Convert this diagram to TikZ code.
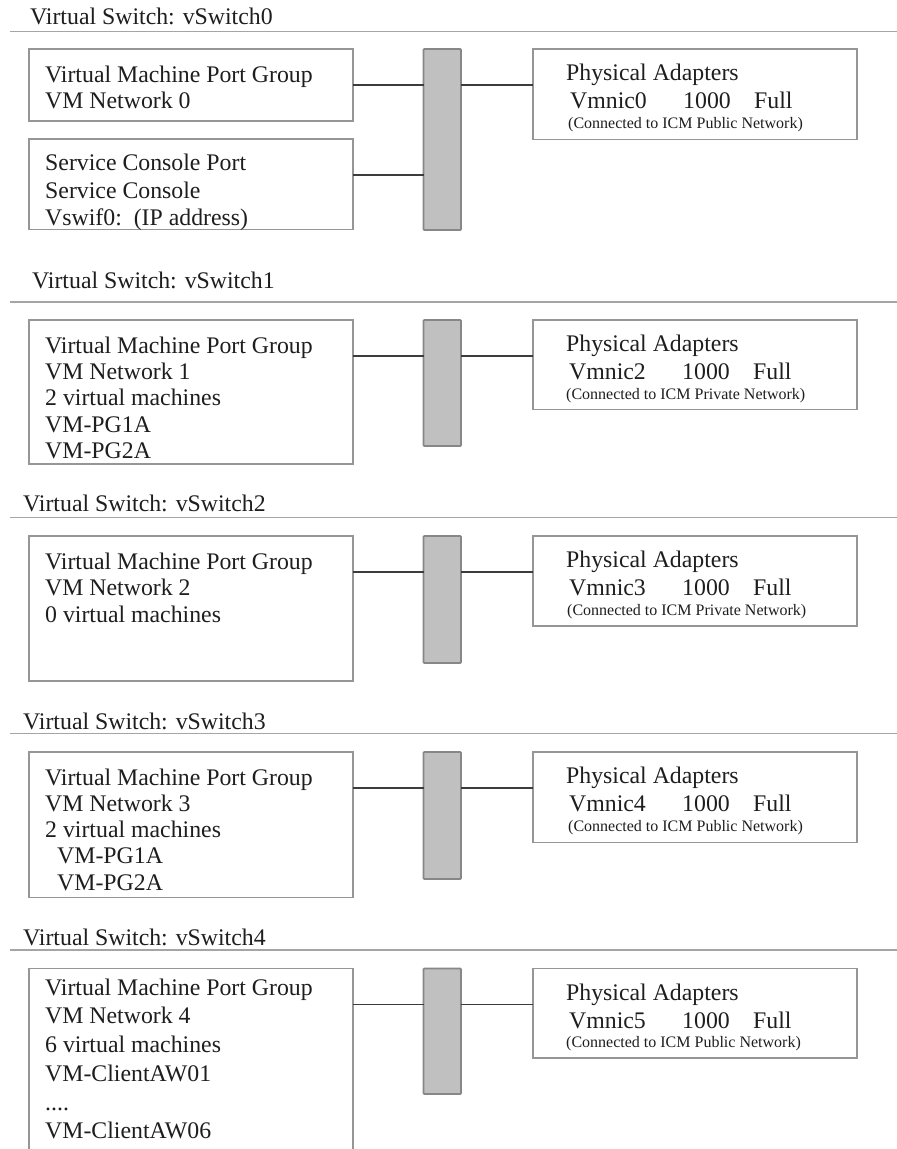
\documentclass[tikz,border=0pt]{standalone}
\usepackage{fontspec}
\setmainfont{Liberation Serif}
\definecolor{rulec}{RGB}{165,165,165}
\definecolor{boxc}{RGB}{150,150,150}
\definecolor{connc}{RGB}{60,60,60}
\definecolor{barf}{RGB}{192,192,192}
\definecolor{bard}{RGB}{135,135,135}
\definecolor{txtc}{RGB}{30,30,30}
\tikzset{
  box/.style={draw=boxc, line width=1.4pt, inner sep=0pt, outer sep=0pt, anchor=north west},
  swbar/.style={draw=bard, fill=barf, line width=1.8pt, inner sep=0pt, outer sep=0pt, anchor=north west, minimum width=37.5pt, rounded corners=0.8pt},
  conn/.style={draw=connc, line width=1.4pt},
  rulel/.style={draw=rulec, line width=1.5pt},
  title/.style={anchor=base west, inner sep=0pt, text=txtc, font=\fontsize{23.8}{26}\selectfont},
  txt/.style={anchor=north west, inner sep=0pt, align=left, text=txtc},
  pa/.style={anchor=base west, inner sep=0pt, text=txtc, font=\fontsize{23.8}{26}\selectfont},
  note/.style={anchor=base west, inner sep=0pt, text=txtc, font=\fontsize{16}{18}\selectfont},
}
\newcommand{\nicline}[1]{\makebox[113pt][l]{#1}\makebox[71pt][l]{1000}Full}
\begin{document}
\begin{tikzpicture}[x=1pt,y=-1pt]
\useasboundingbox (0,0) rectangle (897,1149);
\fill[white] (0,0) rectangle (897,1149);

% ---------------- vSwitch0
\node[title] (t0) at (30,24.5) {Virtual Switch: vSwitch0};
\coordinate (r0a) at (10,31.7); \coordinate (r0b) at (897,31.7);
\draw[rulel] (r0a) -- (r0b);
\node[box, minimum width=324pt, minimum height=72pt] (vm0) at (29,49) {};
\node[txt, font=\fontsize{23.8}{26.6}\selectfont] (vm0t) at (45,65.5) {Virtual Machine Port Group\\VM Network 0};
\node[box, minimum width=324pt, minimum height=90.5pt] (sc0) at (29,139) {};
\node[txt, font=\fontsize{23.8}{27.5}\selectfont] (sc0t) at (45,153.8) {Service Console Port\\Service Console\\Vswif0:\ \ (IP address)};
\node[swbar, minimum height=181pt] (bar0) at (423.5,49) {};
\node[box, minimum width=324pt, minimum height=90.5pt] (ad0) at (533,49) {};
\node[pa] (pa0) at (566,80) {Physical Adapters};
\node[pa] (nic0) at (570,108) {\nicline{Vmnic0}};
\node[note] (nt0) at (568,128) {(Connected to ICM Public Network)};
\draw[conn] ([yshift=-36pt]vm0.north east) -- ([yshift=-36pt]vm0.north east -| bar0.west);
\draw[conn] ([yshift=-36pt]sc0.north east) -- ([yshift=-36pt]sc0.north east -| bar0.west);
\draw[conn] ([yshift=-36pt]ad0.north west -| bar0.east) -- ([yshift=-36pt]ad0.north west);

% ---------------- vSwitch1
\node[title] (t1) at (32,288) {Virtual Switch: vSwitch1};
\coordinate (r1a) at (10,302); \coordinate (r1b) at (897,302);
\draw[rulel] (r1a) -- (r1b);
\node[box, minimum width=324pt, minimum height=144pt] (vm1) at (29,320) {};
\node[txt, font=\fontsize{23.8}{26.3}\selectfont] (vm1t) at (45,336.5) {Virtual Machine Port Group\\VM Network 1\\2 virtual machines\\VM-PG1A\\VM-PG2A};
\node[swbar, minimum height=126pt] (bar1) at (423.5,320) {};
\node[box, minimum width=324pt, minimum height=89.5pt] (ad1) at (533,320) {};
\node[pa] (pa1) at (566,351) {Physical Adapters};
\node[pa] (nic1) at (569,379) {\nicline{Vmnic2}};
\node[note] (nt1) at (566,399) {(Connected to ICM Private Network)};
\draw[conn] ([yshift=-36pt]vm1.north east) -- ([yshift=-36pt]vm1.north east -| bar1.west);
\draw[conn] ([yshift=-36pt]ad1.north west -| bar1.east) -- ([yshift=-36pt]ad1.north west);

% ---------------- vSwitch2
\node[title] (t2) at (23,511.5) {Virtual Switch: vSwitch2};
\coordinate (r2a) at (10,517.7); \coordinate (r2b) at (897,517.7);
\draw[rulel] (r2a) -- (r2b);
\node[box, minimum width=324pt, minimum height=145pt] (vm2) at (29,536) {};
\node[txt, font=\fontsize{23.8}{26.7}\selectfont] (vm2t) at (45,552.5) {Virtual Machine Port Group\\VM Network 2\\0 virtual machines};
\node[swbar, minimum height=127pt] (bar2) at (423.5,536) {};
\node[box, minimum width=324pt, minimum height=90pt] (ad2) at (533,536) {};
\node[pa] (pa2) at (566,567) {Physical Adapters};
\node[pa] (nic2) at (569,595) {\nicline{Vmnic3}};
\node[note] (nt2) at (567,615) {(Connected to ICM Private Network)};
\draw[conn] ([yshift=-36pt]vm2.north east) -- ([yshift=-36pt]vm2.north east -| bar2.west);
\draw[conn] ([yshift=-36pt]ad2.north west -| bar2.east) -- ([yshift=-36pt]ad2.north west);

% ---------------- vSwitch3
\node[title] (t3) at (23,729) {Virtual Switch: vSwitch3};
\coordinate (r3a) at (10,733.5); \coordinate (r3b) at (897,733.5);
\draw[rulel] (r3a) -- (r3b);
\node[box, minimum width=324pt, minimum height=145.5pt] (vm3) at (29,752) {};
\node[txt, font=\fontsize{23.8}{26.2}\selectfont] (vm3t) at (45,768.5) {Virtual Machine Port Group\\VM Network 3\\2 virtual machines\\\hspace*{12pt}VM-PG1A\\\hspace*{12pt}VM-PG2A};
\node[swbar, minimum height=127pt] (bar3) at (423.5,752) {};
\node[box, minimum width=324pt, minimum height=90.5pt] (ad3) at (533,752) {};
\node[pa] (pa3) at (566,783) {Physical Adapters};
\node[pa] (nic3) at (569,811) {\nicline{Vmnic4}};
\node[note] (nt3) at (568,831) {(Connected to ICM Public Network)};
\draw[conn] ([yshift=-36pt]vm3.north east) -- ([yshift=-36pt]vm3.north east -| bar3.west);
\draw[conn] ([yshift=-36pt]ad3.north west -| bar3.east) -- ([yshift=-36pt]ad3.north west);

% ---------------- vSwitch4
\node[title] (t4) at (23,945) {Virtual Switch: vSwitch4};
\coordinate (r4a) at (10,950); \coordinate (r4b) at (897,950);
\draw[rulel] (r4a) -- (r4b);
\node[box, minimum width=324pt, minimum height=185pt] (vm4) at (29,968.5) {};
\node[txt, font=\fontsize{23.8}{28.7}\selectfont] (vm4t) at (45,978.5) {Virtual Machine Port Group\\VM Network 4\\6 virtual machines\\VM-ClientAW01\\....\\VM-ClientAW06};
\node[swbar, minimum height=125.5pt] (bar4) at (423.5,968.5) {};
\node[box, minimum width=324pt, minimum height=89.5pt] (ad4) at (533,968.5) {};
\node[pa] (pa4) at (566,1000) {Physical Adapters};
\node[pa] (nic4) at (569,1028) {\nicline{Vmnic5}};
\node[note] (nt4) at (566,1047) {(Connected to ICM Public Network)};
\draw[conn] ([yshift=-36pt]vm4.north east) -- ([yshift=-36pt]vm4.north east -| bar4.west);
\draw[conn] ([yshift=-36pt]ad4.north west -| bar4.east) -- ([yshift=-36pt]ad4.north west);
\end{tikzpicture}
\end{document}
